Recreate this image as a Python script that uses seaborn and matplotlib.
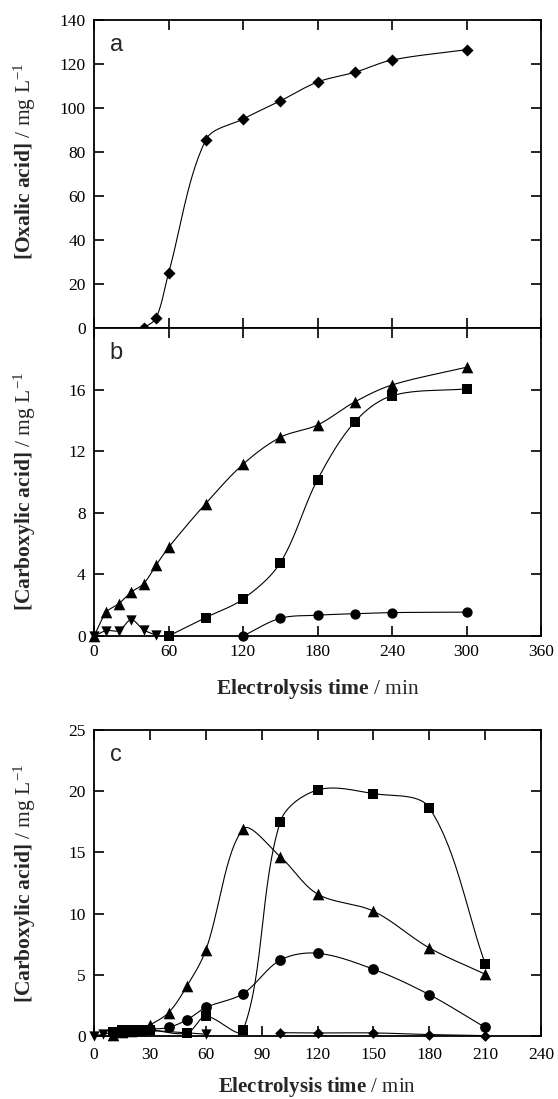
import numpy as np
import pandas as pd
import matplotlib
matplotlib.use("Agg")
import matplotlib.pyplot as plt
import seaborn as sns

sns.set_theme(style="ticks")
plt.rcParams["font.family"] = ["Liberation Serif", "DejaVu Serif"]
plt.rcParams["mathtext.fontset"] = "custom"
plt.rcParams["mathtext.rm"] = "Liberation Serif"
plt.rcParams["mathtext.bf"] = "Liberation Serif:bold"
plt.rcParams["mathtext.it"] = "Liberation Serif:italic"

# ---------------- data ----------------
# panel a: oxalic acid
a_time = [40, 50, 60, 90, 120, 150, 180, 210, 240, 300]
a_oxalic = [0.0, 4.5, 24.8, 85.5, 95.0, 103.2, 111.8, 116.2, 121.8, 126.5]

# panel b: carboxylic acids
b_tri_time = [0, 10, 20, 30, 40, 50, 60, 90, 120, 150, 180, 210, 240, 300]
b_tri = [0.0, 1.55, 2.1, 2.85, 3.4, 4.6, 5.75, 8.6, 11.15, 12.9, 13.7, 15.2, 16.3, 17.45]
b_sq_time = [60, 90, 120, 150, 180, 210, 240, 300]
b_sq = [0.0, 1.2, 2.4, 4.75, 10.15, 13.9, 15.6, 16.05]
b_circ_time = [120, 150, 180, 210, 240, 300]
b_circ = [0.0, 1.15, 1.35, 1.45, 1.52, 1.55]
b_dtri_time = [0, 10, 20, 30, 40, 50]
b_dtri = [0.0, 0.35, 0.35, 1.05, 0.4, 0.05]

# panel c: carboxylic acids
c_tri_time = [10, 15, 20, 25, 30, 40, 50, 60, 80, 100, 120, 150, 180, 210]
c_tri = [0.1, 0.3, 0.4, 0.5, 0.9, 1.9, 4.1, 7.0, 16.9, 14.65, 11.6, 10.2, 7.2, 5.05]
c_sq_time = [10, 15, 20, 25, 30, 50, 60, 80, 100, 120, 150, 180, 210]
c_sq = [0.35, 0.45, 0.5, 0.5, 0.5, 0.25, 1.6, 0.45, 17.5, 20.1, 19.8, 18.65, 5.92]
c_circ_time = [10, 20, 30, 40, 50, 60, 80, 100, 120, 150, 180, 210]
c_circ = [0.3, 0.4, 0.55, 0.7, 1.33, 2.33, 3.46, 6.2, 6.76, 5.46, 3.38, 0.7]
c_dtri_time = [0, 5, 10, 15, 20, 25, 60]
c_dtri = [0.0, 0.15, 0.3, 0.4, 0.45, 0.5, 0.15]
c_dia_time = [100, 120, 150, 180, 210]
c_dia = [0.27, 0.25, 0.25, 0.12, 0.03]

a_yticks = [0, 20, 40, 60, 80, 100, 120, 140]
b_yticks = [0, 4, 8, 12, 16]
b_xticks = [0, 60, 120, 180, 240, 300, 360]
c_yticks = [0, 5, 10, 15, 20, 25]
c_xticks = [0, 30, 60, 90, 120, 150, 180, 210, 240]


def smooth(ax, x, y, n=30):
    """Smoothed connecting line (chord-weighted Bezier, built in screen space)."""
    P = ax.transData.transform(np.column_stack([x, y]).astype(float))
    m = len(P)
    if m < 3:
        return np.asarray(x, float), np.asarray(y, float)
    d = np.linalg.norm(np.diff(P, axis=0), axis=1)
    T = np.zeros_like(P)
    T[1:-1] = P[2:] - P[:-2]
    t = np.linspace(0, 1, n)[:, None]
    out = []
    for i in range(m - 1):
        di = d[i]
        if i > 0:
            c1 = P[i] + T[i] * (di / (d[i - 1] + di)) / 3.0
        else:
            c1 = P[i] + (P[i + 1] - P[i]) / 3.0
        if i + 1 < m - 1:
            c2 = P[i + 1] - T[i + 1] * (di / (di + d[i + 1])) / 3.0
        else:
            c2 = P[i + 1] - (P[i + 1] - P[i]) / 3.0
        seg = ((1 - t) ** 3) * P[i] + 3 * ((1 - t) ** 2) * t * c1 + 3 * (1 - t) * t ** 2 * c2 + t ** 3 * P[i + 1]
        out.append(seg if i == 0 else seg[1:])
    S = ax.transData.inverted().transform(np.vstack(out))
    return S[:, 0], S[:, 1]


def series(ax, x, y, marker, s):
    sx, sy = smooth(ax, x, y)
    sns.lineplot(x=sx, y=sy, ax=ax, sort=False, estimator=None, color="black",
                 linewidth=0.8)
    sns.scatterplot(x=x, y=y, ax=ax, marker=marker, s=s, color="black",
                    edgecolor="black", linewidth=0, clip_on=False, zorder=5)


fig = plt.figure(figsize=(5.58, 10.99), dpi=100)
L, R = 94 / 558, 541 / 558
H = 1099.0
axa = fig.add_axes([L, 1 - 328 / H, R - L, 308 / H])
axb = fig.add_axes([L, 1 - 636 / H, R - L, 308 / H])
axc = fig.add_axes([L, 1 - 1036 / H, R - L, 306 / H])

limits = ((axa, (0, 360), (0, 140)), (axb, (0, 360), (0, 20)), (axc, (0, 240), (0, 25)))
for ax, xl, yl in limits:
    ax.set_xlim(*xl)
    ax.set_ylim(*yl)

series(axa, a_time, a_oxalic, "D", 38)

series(axb, b_tri_time, b_tri, "^", 70)
series(axb, b_sq_time, b_sq, "s", 55)
series(axb, b_circ_time, b_circ, "o", 55)
series(axb, b_dtri_time, b_dtri, "v", 55)

series(axc, c_dia_time, c_dia, "D", 30)
series(axc, c_dtri_time, c_dtri, "v", 55)
series(axc, c_circ_time, c_circ, "o", 60)
series(axc, c_tri_time, c_tri, "^", 70)
series(axc, c_sq_time, c_sq, "s", 60)

for ax, xl, yl in limits:
    ax.set_xlim(*xl)
    ax.set_ylim(*yl)

for ax, xpad in ((axa, 6), (axb, 6), (axc, 8)):
    for sp in ax.spines.values():
        sp.set_linewidth(1.3)
        sp.set_color("black")
    ax.tick_params(direction="in", top=True, right=True, length=7, width=1.2,
                   labelsize=12.5, colors="black")
    ax.tick_params(axis="x", pad=xpad)
    ax.tick_params(axis="y", pad=6)

axa.set_xticks(b_xticks)
axa.set_yticks(a_yticks)
axa.set_xticklabels([])
axa.set_xlabel("")

axb.set_xticks(b_xticks)
axb.set_yticks(b_yticks)

axc.set_xticks(c_xticks)
axc.set_yticks(c_yticks)

lab_kw = dict(fontsize=15.5)
axa.set_ylabel(r"$\mathbf{[Oxalic\ acid]}$ / mg L$^{-1}$", **lab_kw)
axb.set_ylabel(r"$\mathbf{[Carboxylic\ acid]}$ / mg L$^{-1}$", **lab_kw)
axc.set_ylabel(r"$\mathbf{[Carboxylic\ acid]}$ / mg L$^{-1}$", **lab_kw)
axa.yaxis.set_label_coords(-0.125, 0.54)
axb.yaxis.set_label_coords(-0.125, 0.47)
axc.yaxis.set_label_coords(-0.125, 0.5)

axb.set_xlabel(r"$\mathbf{Electrolysis\ time}$ / min", **lab_kw)
axc.set_xlabel(r"$\mathbf{Electrolysis\ time}$ / min", fontsize=15)
axb.xaxis.set_label_coords(0.5, -0.134)
axc.xaxis.set_label_coords(0.5, -0.128)
axb.xaxis.label.set_va("top")
axc.xaxis.label.set_va("top")

for ax, letter in ((axa, "a"), (axb, "b"), (axc, "c")):
    ax.text(0.035, 0.955, letter, transform=ax.transAxes, fontsize=17,
            family=["Liberation Sans", "DejaVu Sans"], va="top", ha="left")

fig.savefig("out.png", dpi=100)
